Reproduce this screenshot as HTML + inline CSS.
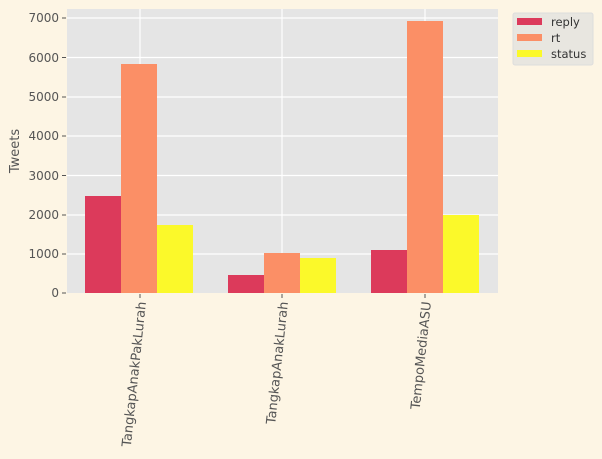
<!DOCTYPE html>
<html><head><style>body{margin:0;background:#fdf5e4}</style></head><body>
<svg width="602" height="454" xmlns="http://www.w3.org/2000/svg" font-family="DejaVu Sans, sans-serif">
<rect width="602" height="454" fill="#fdf5e4"/>
<rect x="67" y="9" width="431" height="284" fill="#e5e5e5"/>
<g stroke="#fff" stroke-width="1.2">
<line x1="67" x2="498" y1="254" y2="254"/><line x1="67" x2="498" y1="215" y2="215"/>
<line x1="67" x2="498" y1="175.5" y2="175.5"/><line x1="67" x2="498" y1="136" y2="136"/>
<line x1="67" x2="498" y1="97" y2="97"/><line x1="67" x2="498" y1="57.5" y2="57.5"/>
<line x1="67" x2="498" y1="18" y2="18"/>
<line x1="140" x2="140" y1="9" y2="293"/><line x1="282" x2="282" y1="9" y2="293"/><line x1="425" x2="425" y1="9" y2="293"/>
</g>
<g>
<rect x="85" y="196" width="36" height="97" fill="#dc3a5b"/>
<rect x="121" y="64" width="36" height="229" fill="#fb8f66"/>
<rect x="157" y="225" width="36" height="68" fill="#fbf92a"/>
<rect x="228" y="275" width="36" height="18" fill="#dc3a5b"/>
<rect x="264" y="253" width="36" height="40" fill="#fb8f66"/>
<rect x="300" y="258" width="36" height="35" fill="#fbf92a"/>
<rect x="371" y="250" width="36" height="43" fill="#dc3a5b"/>
<rect x="407" y="21" width="36" height="272" fill="#fb8f66"/>
<rect x="443" y="215" width="36" height="78" fill="#fbf92a"/>
</g>
<g font-size="12" fill="#555" text-anchor="end">
<text x="59" y="297">0</text><text x="59" y="258">1000</text><text x="59" y="219">2000</text>
<text x="59" y="180">3000</text><text x="59" y="140">4000</text><text x="59" y="101">5000</text>
<text x="59" y="62">6000</text><text x="59" y="22">7000</text>
</g>
<g stroke="#555"><line x1="62" x2="66" y1="293" y2="293"/><line x1="62" x2="66" y1="254" y2="254"/><line x1="62" x2="66" y1="215" y2="215"/><line x1="62" x2="66" y1="175.5" y2="175.5"/><line x1="62" x2="66" y1="136" y2="136"/><line x1="62" x2="66" y1="97" y2="97"/><line x1="62" x2="66" y1="57.5" y2="57.5"/><line x1="62" x2="66" y1="18" y2="18"/>
<line x1="140" x2="140" y1="294" y2="298"/><line x1="282" x2="282" y1="294" y2="298"/><line x1="425" x2="425" y1="294" y2="298"/></g>
<text transform="translate(19,151) rotate(-90)" font-size="13" fill="#555" text-anchor="middle">Tweets</text>
<g font-size="13" fill="#555" text-anchor="end">
<text transform="translate(146,302) rotate(-84)">TangkapAnakPakLurah</text>
<text transform="translate(288,302) rotate(-84)">TangkapAnakLurah</text>
<text transform="translate(431,302) rotate(-84)">TempoMediaASU</text>
</g>
<rect x="513" y="13" width="80" height="52" rx="2" fill="#e8e6e0" stroke="#ddd"/>
<rect x="517" y="18" width="25" height="7" fill="#dc3a5b"/>
<rect x="517" y="34" width="25" height="7" fill="#fb8f66"/>
<rect x="517" y="50" width="25" height="7" fill="#fbf92a"/>
<g font-size="11.5" fill="#333">
<text x="551" y="26">reply</text><text x="551" y="42">rt</text><text x="551" y="58">status</text>
</g>
</svg>
</body></html>
